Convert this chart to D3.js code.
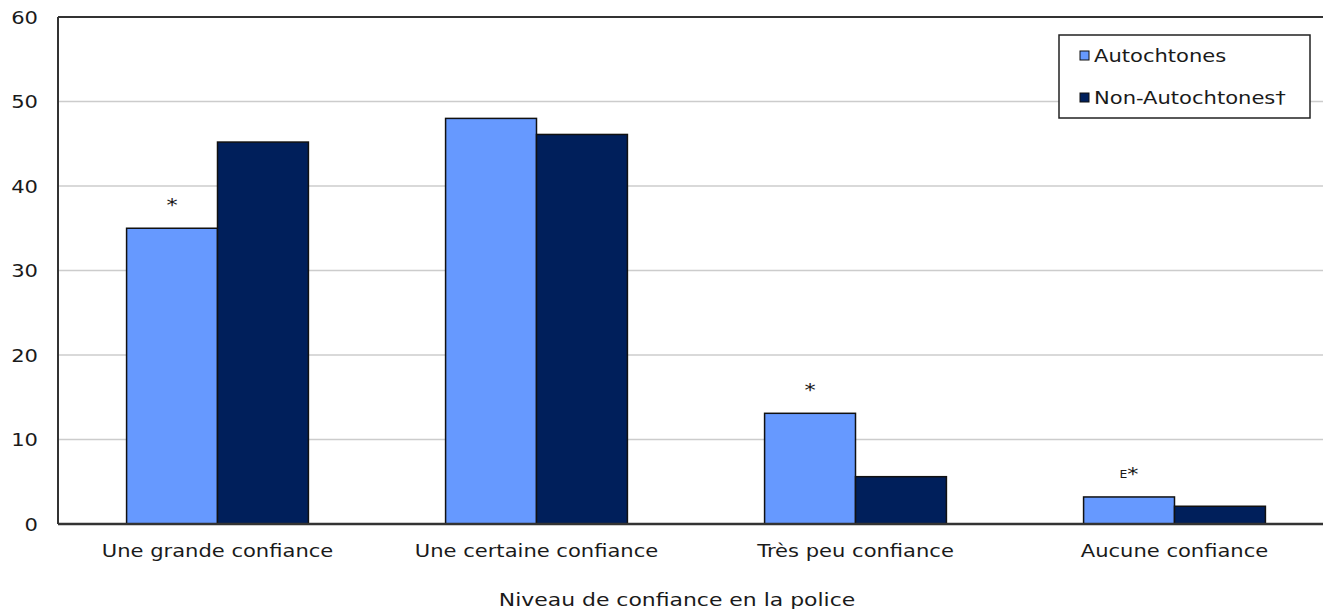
<!DOCTYPE html>
<html>
<head>
<meta charset="utf-8">
<script src="https://cdn.jsdelivr.net/npm/d3@7"></script>
<style>
  html, body { margin: 0; padding: 0; background: #fff; }
  svg text { font-family: Verdana, "DejaVu Sans", sans-serif; fill: #1a1a1a; }
</style>
</head>
<body>
<svg id="chart" width="1323" height="609"></svg>
<script>
const categories = ["Une grande confiance", "Une certaine confiance", "Très peu confiance", "Aucune confiance"];
const seriesNames = ["Autochtones", "Non-Autochtones†"];
const autochtones = [35, 48, 13.1, 3.2];
const nonAutochtones = [45.2, 46.1, 5.6, 2.1];
const autochtonesNotes = [["", "*"], ["", ""], ["", "*"], ["E", "*"]];
const yTicks = [0, 10, 20, 30, 40, 50, 60];
const xTitle = "Niveau de confiance en la police";
const colors = ["#6699ff", "#001f5b"];

const SX = 1.24;
const svg = d3.select("#chart");
const margin = {left: 58, top: 17, right: -11, bottom: 85};
const W = 1323, H = 609;
const x0 = margin.left, x1 = W - margin.right, yTop = margin.top, yBot = H - margin.bottom;

// place a text at (tx,ty) stretched horizontally
function stretchText(sel, tx, ty, sx) {
  sel.attr("x", 0).attr("y", 0).attr("dy", null)
     .attr("transform", `translate(${tx},${ty}) scale(${sx},1)`);
}

const x = d3.scaleBand().domain(categories).range([x0, x1]).paddingInner(0.43).paddingOuter(0.215);
const xs = d3.scaleBand().domain(seriesNames).range([0, x.bandwidth()]);
const y = d3.scaleLinear().domain([0, 60]).range([yBot, yTop]);

// gridlines
svg.append("g").selectAll("line").data(yTicks.filter(d => d > 0 && d < 60)).join("line")
  .attr("x1", x0).attr("x2", x1).attr("y1", d => y(d)).attr("y2", d => y(d))
  .attr("stroke", "#cccccc").attr("stroke-width", 1.5);

// bars
const data = categories.map((c, i) => ({cat: c, vals: [autochtones[i], nonAutochtones[i]], note: autochtonesNotes[i]}));
const g = svg.append("g").selectAll("g").data(data).join("g")
  .attr("transform", d => `translate(${x(d.cat)},0)`);
g.selectAll("rect").data(d => d.vals.map((v, k) => ({v, k}))).join("rect")
  .attr("x", d => xs(seriesNames[d.k]))
  .attr("width", xs.bandwidth())
  .attr("y", d => y(d.v))
  .attr("height", d => y(0) - y(d.v))
  .attr("fill", d => colors[d.k])
  .attr("stroke", "#111").attr("stroke-width", 1.5);
const notes = g.append("text")
  .attr("text-anchor", "middle")
  .attr("font-size", 18)
  .each(function(d) {
    stretchText(d3.select(this), xs(seriesNames[0]) + xs.bandwidth() / 2, y(d.vals[0]) - 17, SX);
  });
notes.append("tspan").attr("font-size", 10).attr("dy", -2).text(d => d.note[0]);
notes.append("tspan").attr("dy", d => d.note[0] ? 2 : 0).text(d => d.note[1]);

// frame
svg.append("line").attr("x1", x0).attr("x2", x1).attr("y1", yTop).attr("y2", yTop).attr("stroke", "#333").attr("stroke-width", 2);
svg.append("line").attr("x1", x0).attr("x2", x0).attr("y1", yTop).attr("y2", yBot).attr("stroke", "#333").attr("stroke-width", 2);
svg.append("line").attr("x1", x0).attr("x2", x1).attr("y1", yBot).attr("y2", yBot).attr("stroke", "#333").attr("stroke-width", 2.5);

// y axis labels
const yAxis = d3.axisLeft(y).tickValues(yTicks).tickSize(0).tickPadding(20);
const ya = svg.append("g").attr("transform", `translate(${x0},0)`).call(yAxis);
ya.select(".domain").remove();
ya.selectAll("text").attr("font-size", 17).attr("fill", "#1a1a1a")
  .style("font-family", "Verdana, 'DejaVu Sans', sans-serif")
  .each(function() { stretchText(d3.select(this), -20, 6, SX); });

// x axis labels
const xAxis = d3.axisBottom(x).tickSize(0).tickPadding(20);
const xa = svg.append("g").attr("transform", `translate(0,${yBot})`).call(xAxis);
xa.select(".domain").remove();
xa.selectAll("text").attr("font-size", 17).attr("fill", "#1a1a1a")
  .style("font-family", "Verdana, 'DejaVu Sans', sans-serif")
  .each(function() { stretchText(d3.select(this), 0, 33, SX); });

stretchText(svg.append("text").attr("text-anchor", "middle").attr("font-size", 17).text(xTitle), 677, 606, 1.29);

// legend
const lg = svg.append("g");
lg.append("rect").attr("x", 1059).attr("y", 35).attr("width", 251).attr("height", 83)
  .attr("fill", "#fff").attr("stroke", "#222").attr("stroke-width", 1.5);
seriesNames.forEach((s, k) => {
  const yy = 56 + k * 42;
  lg.append("rect").attr("x", 1080).attr("y", yy - 5).attr("width", 9).attr("height", 9)
    .attr("fill", colors[k]).attr("stroke", "#111").attr("stroke-width", 1);
  stretchText(lg.append("text").attr("font-size", 17).text(s), 1094, yy + 6, SX);
});
</script>
</body>
</html>
